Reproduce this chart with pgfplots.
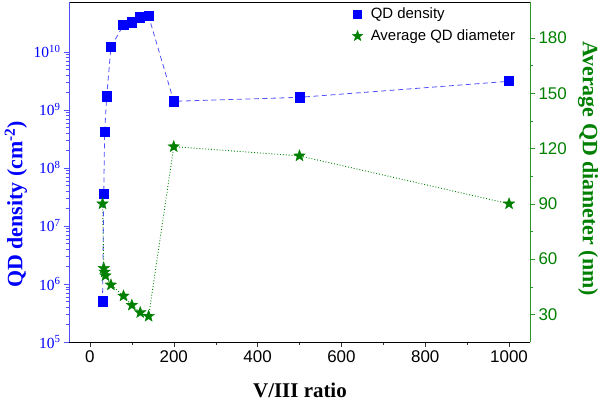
\documentclass[border=0pt]{standalone}
\usepackage{pgfplots}
\pgfplotsset{compat=1.18}
\usepackage{fontspec}
\setmainfont{Liberation Sans}
\newfontfamily\timesfont{Liberation Serif}
\definecolor{dblue}{RGB}{0,0,255}
\definecolor{lblue}{RGB}{80,80,255}
\definecolor{dgreen}{RGB}{0,128,0}
\definecolor{lgreen}{RGB}{40,150,40}
\pgfdeclareplotmark{fstar}{%
  \pgfpathmoveto{\pgfqpointpolar{90}{\pgfplotmarksize}}%
  \pgfpathlineto{\pgfqpointpolar{126}{0.42\pgfplotmarksize}}%
  \pgfpathlineto{\pgfqpointpolar{162}{\pgfplotmarksize}}%
  \pgfpathlineto{\pgfqpointpolar{198}{0.42\pgfplotmarksize}}%
  \pgfpathlineto{\pgfqpointpolar{234}{\pgfplotmarksize}}%
  \pgfpathlineto{\pgfqpointpolar{270}{0.42\pgfplotmarksize}}%
  \pgfpathlineto{\pgfqpointpolar{306}{\pgfplotmarksize}}%
  \pgfpathlineto{\pgfqpointpolar{342}{0.42\pgfplotmarksize}}%
  \pgfpathlineto{\pgfqpointpolar{18}{\pgfplotmarksize}}%
  \pgfpathlineto{\pgfqpointpolar{54}{0.42\pgfplotmarksize}}%
  \pgfpathclose
  \pgfusepathqfillstroke
}
\begin{document}
\begin{tikzpicture}
\begin{axis}[
  name=ax1,
  scale only axis, width=461bp, height=340bp,
  xmin=-50, xmax=1050,
  ymode=log, ymin=1e5, ymax=7.2e10,
  axis y line*=left,
  xtick={0,200,400,600,800,1000},
  minor x tick num=1,
  xtick pos=bottom,
  tick align=outside,
  major tick length=5bp, minor tick length=3bp,
  ytick={1e5,1e6,1e7,1e8,1e9,1e10},
  yticklabels={10\textsuperscript{5},10\textsuperscript{6},10\textsuperscript{7},10\textsuperscript{8},10\textsuperscript{9},10\textsuperscript{10}},
  yticklabel style={font=\timesfont\fontsize{15.5}{15.5}\selectfont, text=dblue},
  xticklabel style={font=\fontsize{17}{17}\selectfont},
  /pgf/number format/assume math mode=true,
  /pgf/number format/1000 sep={},
  y axis line style={lblue, line width=1pt},
  ytick style={lblue},
  xtick style={black!80},
  x axis line style={black, line width=0.8pt},
  xlabel={\timesfont\bfseries V/III ratio},
  xlabel style={font=\fontsize{21}{21}\selectfont, at={(axis description cs:0.501,-0.143)}, anchor=center},
  ylabel={\timesfont\bfseries QD density (cm\textsuperscript{-2})},
  ylabel style={font=\fontsize{22}{22}\selectfont, text=dblue, at={(axis description cs:-0.115,0.405)}, anchor=center, rotate=0},
]
\addplot[lblue, dash pattern=on 5bp off 3.5bp, line width=0.8pt, mark=square*, mark size=4.6bp, mark options={solid, fill=dblue, draw=dblue}]
coordinates {
(30,5e5) (33,3.6e7) (35,4.1e8) (40,1.7e9) (50,1.2e10) (80,2.9e10) (100,3.2e10) (120,3.9e10) (140,4.1e10) (200,1.4e9) (500,1.64e9) (1000,3.1e9)
};
\end{axis}
\begin{axis}[
  scale only axis, width=461bp, height=340bp,
  xmin=-50, xmax=1050,
  ymin=15, ymax=199.5,
  axis x line=none,
  axis y line*=right,
  ytick={30,60,90,120,150,180},
  minor y tick num=1,
  tick align=outside,
  major tick length=5bp, minor tick length=3bp,
  yticklabel style={font=\fontsize{17}{17}\selectfont, text=dgreen},
  /pgf/number format/assume math mode=true,
  y axis line style={lgreen, line width=1pt},
  ytick style={lgreen},
  ylabel={\timesfont\bfseries Average QD diameter (nm)},
  ylabel style={font=\fontsize{22}{22}\selectfont, text=dgreen, at={(axis description cs:1.126,0.51)}, anchor=center, rotate=180},
  legend style={at={(axis description cs:0.612,0.993)}, anchor=north west, draw=none, fill=none, font=\fontsize{15}{15}\selectfont, row sep=6bp, column sep=6bp, inner sep=1bp},
  legend cell align=left,
]
\addlegendimage{only marks, mark=square*, mark size=4bp, mark options={fill=dblue, draw=dblue}}
\addlegendentry{QD density}
\addlegendimage{only marks, mark=fstar, mark size=5.5bp, mark options={fill=dgreen, draw=dgreen}}
\addlegendentry{Average QD diameter}
\addplot[forget plot, dgreen, dotted, line width=0.9pt, mark=fstar, mark size=6bp, mark options={solid, fill=dgreen, draw=dgreen, line width=0.4pt}]
coordinates {
(30,90) (33,55) (35,53) (37,51) (50,46) (80,40) (100,35) (120,31) (140,29) (200,121) (500,116) (1000,90)
};
\end{axis}
\pgfresetboundingbox
\useasboundingbox (ax1.south west) ++(-69bp,-60bp) rectangle ++(600bp,402bp);
\end{tikzpicture}
\end{document}
